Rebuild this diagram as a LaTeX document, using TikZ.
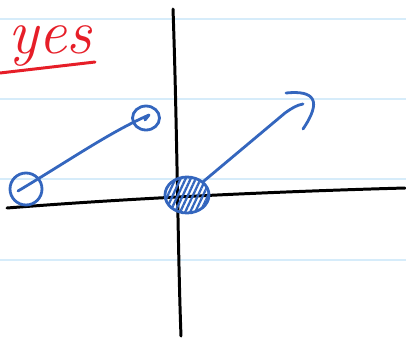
\documentclass[tikz,border=0pt]{standalone}
\usepackage{xcolor}
\usetikzlibrary{patterns.meta, shapes.geometric}

\definecolor{inkblue}{RGB}{52,102,190}
\definecolor{inkred}{RGB}{230,30,40}
\definecolor{rule}{RGB}{214,236,250}

\begin{document}
\begin{tikzpicture}[x=0.02cm, y=-0.02cm,
  pen/.style={inkblue, line width=1.6pt, line cap=round, line join=round},
  axis/.style={black, line width=1.7pt, line cap=round},
  ring/.style={ellipse, draw=inkblue, line width=1.6pt, inner sep=0pt},
  hatched/.style={ellipse, draw=inkblue, line width=1.6pt, inner sep=0pt,
    pattern={Lines[angle=65, distance=2.6pt, line width=1.3pt]}, pattern color=inkblue}
]
\useasboundingbox (0,0) rectangle (406,339);
% ruled paper
\foreach \y in {19,99,179,260}
  \draw[rule, line width=0.7pt] (0,\y) -- (406,\y);

% axes
\draw[axis] (7,208) .. controls (120,199) and (260,192) .. (405,188);
\draw[axis] (173,9) .. controls (177,120) and (178,260) .. (181,336);

% heading
\node[anchor=base west, inkred, inner sep=0pt,
  font=\fontsize{36}{36}\selectfont\itshape] (word) at (8,53) {yes};
\draw[inkred, line width=1.7pt, line cap=round] (0,73) -- (95,62);

% points
\node[ring, minimum width=0.64cm, minimum height=0.64cm] (p1) at (26,189) {};
\node[ring, minimum width=0.54cm, minimum height=0.48cm] (p2) at (146,118) {};
\node[hatched, minimum width=0.88cm, minimum height=0.72cm] (o) at (187,195) {};
\coordinate (tip) at (303,104);

\draw[pen] ([shift={(-8,2)}]p1.center) .. controls (70,160) and (110,132) .. ([shift={(3,-3)}]p2.center)
  -- ([shift={(-1,2)}]p2.center);
\draw[pen] (o.north east) -- (285,113) .. controls (292,108) and (297,105) .. (tip);
\draw[pen] (286,93) .. controls (315,90) and (322,101) .. (303,129);
\end{tikzpicture}
\end{document}
